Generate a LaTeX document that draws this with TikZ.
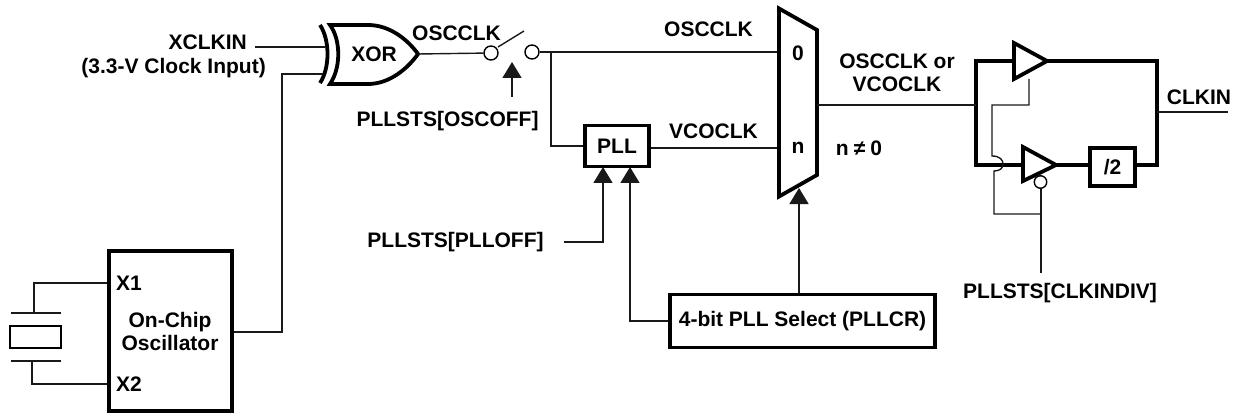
\documentclass[tikz,border=0pt]{standalone}
\usepackage{fontspec}
\setmainfont{Liberation Sans}
\usetikzlibrary{arrows.meta}
\begin{document}
\begin{tikzpicture}[x=1pt, y=-1pt,
  every node/.style = {align=center, inner sep=0pt, font=\fontsize{21}{23}\selectfont\bfseries},
  wire/.style = {draw, line width=1.4pt, color=black!90},
  sig/.style = {wire, -{Triangle[length=16pt,width=19pt]}},
  heavy/.style = {draw, line width=3.8pt, line join=miter},
  blockbox/.style = {rectangle, draw, line width=3.8pt},
  contact/.style = {circle, draw, line width=1.4pt, minimum size=14pt}]
  \useasboundingbox (0,0) rectangle (1236,414);

  \node [blockbox, minimum width=123pt, minimum height=160pt] (osc) at (170.5,331) {};
  \node (oscname) at (170,331.5) {On-Chip\\Oscillator};
  \node (xone) at (129,283) {X1};
  \node (xtwo) at (129,384) {X2};
  \node [blockbox, minimum width=64pt, minimum height=41pt] (pll) at (617,146) {PLL};
  \node [blockbox, minimum width=265pt, minimum height=53pt] (pllsel) at (802.5,321) {4-bit PLL Select (PLLCR)};
  \node [blockbox, minimum width=45pt, minimum height=38pt] (divtwo) at (1112.5,167) {/2};

  \node [anchor=east] (xclkin) at (247,42) {XCLKIN};
  \node [anchor=east] (clkinput) at (266,68) {(3.3-V Clock Input)};
  \node (xorname) at (374,54) {XOR};
  \node (oscclka) at (456.5,33) {OSCCLK};
  \node (oscclkb) at (708.5,29) {OSCCLK};
  \node (vcoclk) at (713.5,131) {VCOCLK};
  \node (oscoff) at (447.5,121) {PLLSTS[OSCOFF]};
  \node (plloff) at (455.5,242) {PLLSTS[PLLOFF]};
  \node (clkindiv) at (1060,293) {PLLSTS[CLKINDIV]};
  \node (muxzero) at (798,53) {0};
  \node (muxn) at (798,148) {n};
  \node (nonzero) at (859,148) {n\hspace{5pt}≠\hspace{5pt}0};
  \node (oscvco) at (897,72.5) {OSCCLK or\\VCOCLK};
  \node (clkin) at (1199,97) {CLKIN};

  \coordinate (xorin) at (325,47);
  \coordinate (xorlow) at (323,74);
  \coordinate (xorout) at (418,54);
  \coordinate (xclkend) at (255,47);
  \node [contact] (swleft) at (491,53) {};
  \node [contact] (swright) at (532,52) {};
  \coordinate (swtip) at (524,31);
  \coordinate (swctl) at (512,62);
  \coordinate (swctlend) at (512,97);
  \coordinate (tee) at (551,52);
  \coordinate (muxin) at (777,52);
  \coordinate (muxvco) at (777,148);
  \coordinate (muxout) at (817,105);
  \coordinate (muxsel) at (799,188);

  \path [heavy, line cap=butt] (320,25) .. controls (330,40) and (330,68) .. (320,83);
  \path [heavy] (330,25) -- (368,25) .. controls (390,25) and (408,40) .. (xorout)
    .. controls (408,68) and (390,84) .. (368,84) -- (330,84)
    .. controls (341,68) and (341,40) .. cycle;
  \path [heavy] (779,8.5) -- (817,30) -- (817,175) -- (779,196.5) -- cycle;

  \coordinate (bufone) at (1014,61);
  \coordinate (buftwo) at (1023,165);
  \coordinate (loopw) at (976,105);
  \coordinate (loope) at (1157,112);
  \path [heavy] (1014,43) -- (1047,61) -- (1014,79) -- cycle;
  \path [heavy] (1023,147) -- (1056,165) -- (1023,181) -- cycle;
  \path [heavy] (bufone) -- (976,61) -- (976,165) -- (buftwo);
  \path [heavy] (1047,61) -- (1157,61) -- (1157,165) -- (divtwo.east |- buftwo);
  \path [heavy] (1056,165) -- (divtwo.west |- buftwo);
  \node [circle, draw, fill=white, line width=1.4pt, minimum size=12.5pt] (bubble) at (1040.5,182) {};

  \path [wire] (xclkend) -- (xorin);
  \path [wire] (osc.east |- 0,332) -| (282,74) -- (xorlow);
  \path [wire] (xorout) -- (swleft);
  \path [wire] (498,47) -- (swtip);
  \path [wire] (swright) -- (muxin);
  \path [wire] (tee) |- (pll.west);
  \path [wire] (pll.east |- muxvco) -- (muxvco);
  \path [wire] (muxout) -- (loopw);
  \path [wire] (loope) -- (1228,112);
  \path [sig] (swctlend) -- (swctl);
  \path [sig] (564,242) -| (603,167);
  \path [sig] (pllsel.west) -| (630,167);
  \path [sig] (pllsel.north -| muxsel) -- (muxsel);

  \path [wire] (1029,79) |- (992,105) -- (992,156)
    .. controls (1000,156) and (1003,160) .. (1003,164)
    .. controls (1003,168) and (1000,171) .. (994,171) -- (994,214) -- (1041,214);
  \path [wire] (1041,273) -- (bubble.south -| 1041,0);

  \node [rectangle, draw, line width=1.4pt, minimum width=51pt, minimum height=22pt] (crystal) at (35.5,337) {};
  \coordinate (plateup) at (34,313);
  \coordinate (platedn) at (32,361);
  \path [wire] (11,313) -- (61,313);
  \path [wire] (11,361) -- (61,361);
  \path [wire] (osc.west |- xone) -| (plateup);
  \path [wire] (osc.west |- xtwo) -| (platedn);
\end{tikzpicture}
\end{document}
